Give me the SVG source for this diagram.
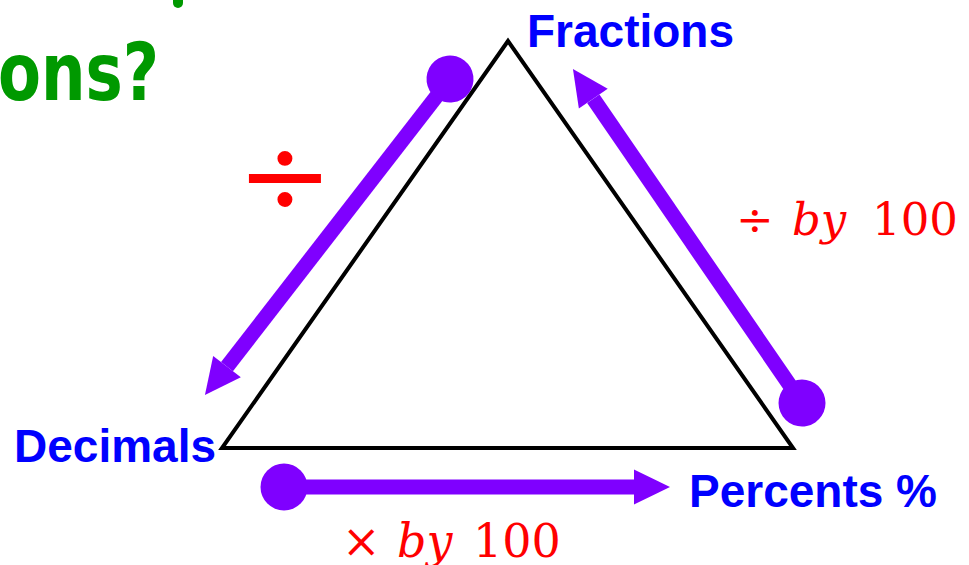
<svg xmlns="http://www.w3.org/2000/svg" width="969" height="565" viewBox="0 0 969 565">
<style>
.lbl{font-family:"Liberation Sans",Arial,sans-serif;font-weight:bold;fill:#0000FF;font-size:46px}
.math{font-family:"DejaVu Serif","Liberation Serif",serif;fill:#FF0000}
.it{font-style:italic}
.arr{stroke:#7F00FF;stroke-width:15;fill:none}
</style>
<defs>
<marker id="head" markerUnits="userSpaceOnUse" markerWidth="40" markerHeight="40" viewBox="0 -20 40 40" refX="0" refY="0" orient="auto" overflow="visible">
<path d="M0,-17.5 L36,0 L0,17.5 Z" fill="#7F00FF"/>
</marker>
<marker id="dot" markerUnits="userSpaceOnUse" markerWidth="50" markerHeight="50" viewBox="-25 -25 50 50" refX="0" refY="0" orient="auto" overflow="visible">
<circle cx="0" cy="0" r="23.5" fill="#7F00FF"/>
</marker>
</defs>
<rect width="969" height="565" fill="#FFFFFF"/>
<g id="title">
<path d="M173,0 H183 V3 A5,5 0 0 1 173,3 Z" fill="#009900"/>
<text x="-2" y="100" font-family="'Comic Sans MS','DejaVu Sans',sans-serif" font-weight="bold" font-size="80" fill="#009900" textLength="161" lengthAdjust="spacingAndGlyphs">ons?</text>
</g>
<g id="triangle">
<polygon points="508,41 222,448 793,448" fill="none" stroke="#000" stroke-width="4" stroke-linejoin="miter"/>
</g>
<g id="fractions"><text class="lbl" x="527" y="47">Fractions</text></g>
<g id="decimals"><text class="lbl" x="14" y="462">Decimals</text></g>
<g id="percents"><text class="lbl" x="689" y="507">Percents %</text></g>
<g id="connectors">
<line class="arr" x1="450" y1="79" x2="227" y2="366.6" marker-start="url(#dot)" marker-end="url(#head)"/>
<line class="arr" x1="802" y1="403" x2="593.3" y2="98.7" marker-start="url(#dot)" marker-end="url(#head)"/>
<line class="arr" x1="284" y1="487" x2="634" y2="487" marker-start="url(#dot)" marker-end="url(#head)"/>
</g>
<g id="labels">
<text class="math" x="285" y="215" font-size="115" text-anchor="middle" font-family="'DejaVu Sans',sans-serif">÷</text>
<text class="math" font-size="45" y="235"><tspan x="736">÷</tspan><tspan class="it" x="792">by</tspan><tspan x="872">100</tspan></text>
<text class="math" font-size="46" y="557"><tspan x="342">×</tspan><tspan class="it" x="397">by</tspan><tspan x="473">100</tspan></text>
</g>
</svg>
